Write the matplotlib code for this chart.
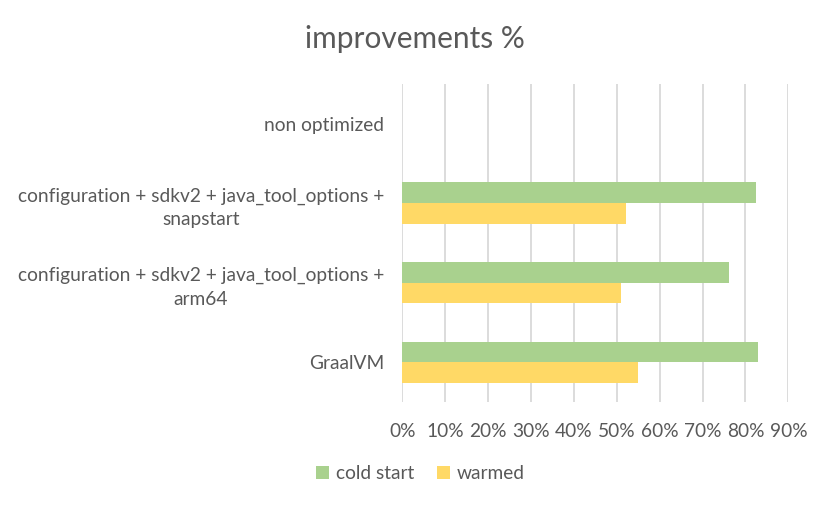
import numpy as np
import matplotlib.pyplot as plt

categories = ['non optimized',
              'configuration + sdkv2 + java_tool_options +\nsnapstart',
              'configuration + sdkv2 + java_tool_options +\narm64',
              'GraalVM']
cold_start = [0, 82.4, 76.2, 83.0]
warmed = [0, 52.1, 50.9, 54.9]
ticks = [0, 10, 20, 30, 40, 50, 60, 70, 80, 90]

plt.rcParams['font.family'] = ['Lato', 'DejaVu Sans']
txt = '#595959'

fig = plt.figure(figsize=(8.29, 5.05), dpi=100)
ax = fig.add_axes([0.4853, 0.204, 0.4657, 0.63])

y = np.arange(len(categories))
h = 0.26
ax.barh(y - h / 2, cold_start, height=h, color='#A9D18E', label='cold start', zorder=3)
ax.barh(y + h / 2, warmed, height=h, color='#FFD966', label='warmed', zorder=3)

ax.set_ylim(len(categories) - 0.5, -0.5)
ax.set_xlim(0, 90)
ax.set_xticks(ticks)
ax.set_xticklabels([f'{t}%' for t in ticks])
ax.set_yticks(y)
ax.set_yticklabels(categories)
for lbl in ax.get_yticklabels():
    lbl.set_multialignment('center')
    lbl.set_linespacing(1.45)

ax.grid(axis='x', color='#D9D9D9', linewidth=1.3, zorder=0)
for s in ax.spines.values():
    s.set_visible(False)
ax.tick_params(axis='both', length=0, labelsize=13.8, colors=txt)
ax.tick_params(axis='y', pad=13)
ax.tick_params(axis='x', pad=15)

fig.text(0.5, 0.922, 'improvements %', ha='center', va='center', fontsize=21.5, color=txt)

fig.legend(loc='center', bbox_to_anchor=(0.507, 0.062), ncol=2, frameon=False,
           fontsize=13.8, labelcolor=txt, handlelength=0.7, handleheight=0.7,
           handletextpad=0.35, columnspacing=1.2)

fig.savefig('out.png', dpi=100)
